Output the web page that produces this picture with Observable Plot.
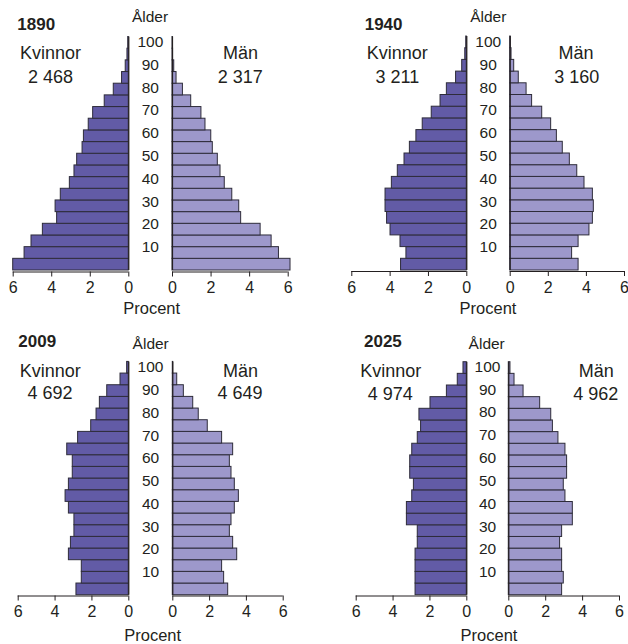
<!DOCTYPE html>
<html><head><meta charset="utf-8">
<script src="https://cdn.jsdelivr.net/npm/d3@7"></script>
<script src="https://cdn.jsdelivr.net/npm/@observablehq/plot@0.6"></script>
<style>
body{margin:0;background:#fff;font-family:"Liberation Sans",Arial,sans-serif;color:#231f20;}
#chart{position:relative;width:628px;height:644px;overflow:hidden;background:#fff;}
.panel{position:absolute;width:314px;height:322px;}
.panel svg{position:absolute;left:0;top:0;}
.lbl{position:absolute;transform:translate(-50%,-50%);line-height:1;white-space:nowrap;}
.ttl{position:absolute;transform:translate(0,-50%);line-height:1;font-weight:bold;font-size:17px;}
</style></head><body><div id="chart"></div>
<script>
// Age groups (lower bound of 5-year group; top group is 95+)
const ageGroups = [0,5,10,15,20,25,30,35,40,45,50,55,60,65,70,75,80,85,90,95];
const ageTicks = [10,20,30,40,50,60,70,80,90,100];
const pctTicks = [0,2,4,6];
const years = ["1890","1940","2009","2025"];
const womenLabel = "Kvinnor";
const menLabel = "Män";
const totalsWomen = ["2 468","3 211","4 692","4 974"];
const totalsMen = ["2 317","3 160","4 649","4 962"];

// Percent of population by age group, bottom (0-4) to top (95+)
const women1890 = [6.00,5.41,5.05,4.46,3.72,3.80,3.53,3.06,2.82,2.68,2.40,2.33,2.08,1.85,1.25,0.78,0.35,0.16,0.07,0.03];
const men1890   = [6.12,5.52,5.14,4.57,3.56,3.46,3.10,2.71,2.49,2.35,2.09,2.01,1.71,1.50,0.97,0.54,0.21,0.09,0.03,0.02];
const women1940 = [3.43,3.15,3.46,3.98,4.16,4.24,4.24,3.91,3.60,3.25,2.97,2.63,2.30,1.83,1.37,1.04,0.56,0.24,0.08,0.03];
const men1940   = [3.59,3.25,3.59,4.16,4.34,4.39,4.34,3.90,3.52,3.13,2.76,2.45,2.15,1.68,1.15,0.86,0.45,0.21,0.07,0.03];
const women2009 = [2.84,2.55,2.55,3.25,3.14,2.95,2.95,3.25,3.43,3.25,3.04,3.04,3.34,2.75,2.04,1.75,1.57,1.17,0.45,0.09];
const men2009   = [3.01,2.79,2.68,3.50,3.28,3.10,3.19,3.37,3.59,3.37,3.19,3.10,3.28,2.68,1.90,1.41,1.11,0.60,0.24,0.02];
const women2025 = [2.78,2.78,2.78,2.78,2.66,2.66,3.25,3.25,2.96,2.87,3.07,3.07,2.96,2.66,2.48,2.57,1.97,1.08,0.49,0.18];
const men2025   = [2.89,2.98,2.89,2.89,2.78,2.89,3.47,3.47,3.07,2.98,3.16,3.16,3.07,2.69,2.39,2.30,1.70,0.80,0.31,0.09];

const womenSeries = [women1890, women1940, women2009, women2025];
const menSeries = [men1890, men1940, men2009, men2025];

// Layout (pixels, relative to each panel)
const layout = [
  {ox:0,   oy:0,   lx6:12.7, lx0:128.3, rx0:172.0, rx6:287.7, yb:270.0, yt:36.5, ax:271.5, l10:246.7, l100:41.7,
   ttl:[17.3,24], ald:[150,17.3], kv:[50.5,53.3], kvn:[50.5,76.7], mn:[240.5,53.3], mnn:[240.3,76.7], pc:[151.7,308.3]},
  {ox:314, oy:0,   lx6:37.3, lx0:152.3, rx0:195.7, rx6:310.0, yb:270.0, yt:36.0, ax:271.0, l10:246.7, l100:41.7,
   ttl:[50.7,24], ald:[174.3,17.3], kv:[83.3,53.3], kvn:[83.3,76.7], mn:[262,53.3], mnn:[262.7,76.7], pc:[174,308.3]},
  {ox:0,   oy:322, lx6:17.7, lx0:128.3, rx0:172.3, rx6:282.7, yb:272.7, yt:39.4, ax:273.5, l10:249.6, l100:44.9,
   ttl:[18.3,19], ald:[150.7,21.7], kv:[50.3,49.3], kvn:[50,71], mn:[240.5,49.3], mnn:[240,71], pc:[152.7,313]},
  {ox:314, oy:322, lx6:41.7, lx0:152.3, rx0:194.3, rx6:305.0, yb:272.7, yt:39.7, ax:273.5, l10:249.8, l100:44.3,
   ttl:[50,19], ald:[172.7,21.7], kv:[76.7,49.3], kvn:[76.3,71.7], mn:[282.2,49.3], mnn:[281.7,71.7], pc:[175,313]}
];

const FEMALE = "#625ba6", MALE = "#9d98cb", EDGE = "#2e2c3a", INK = "#231f20";
const FONT = "'Liberation Sans', Arial, sans-serif";

function side(values, xRange, L, fill) {
  const data = ageGroups.map((a, i) => ({age: a, top: a + 5, v: values[i]}));
  return Plot.plot({
    width: 314, height: 322,
    marginTop: 0, marginLeft: 0, marginRight: 0, marginBottom: 322 - L.ax,
    x: {domain: [0, 6], range: xRange},
    y: {domain: [0, 100], range: [L.yb, L.yt], axis: null},
    style: {background: "transparent", overflow: "visible", fontFamily: FONT, color: INK},
    marks: [
      Plot.rectX(data, {x1: 0, x2: "v", y1: "age", y2: "top", fill, stroke: EDGE, strokeWidth: 1}),
      Plot.ruleY([0], {x1: 0, x2: 6, dy: L.ax - L.yb, stroke: INK, strokeWidth: 1}),
      Plot.ruleX([0], {y1: 0, y2: 100, stroke: INK, strokeWidth: 1.2}),
      Plot.axisX(pctTicks, {anchor: "bottom", tickSize: 5, tickPadding: 5, fontSize: 16, label: null, stroke: INK, fill: INK})
    ]
  });
}

function ages(L) {
  return Plot.plot({
    width: L.rx0 - L.lx0, height: 322,
    marginTop: 0, marginLeft: 0, marginRight: 0, marginBottom: 0,
    y: {domain: [10, 100], range: [L.l10, L.l100], axis: null},
    style: {background: "transparent", overflow: "visible", fontFamily: FONT, color: INK},
    marks: [
      Plot.text(ageTicks, {y: d => d, text: d => String(d), fontSize: 15.5, fill: INK})
    ]
  });
}

function label(parent, cls, txt, pos, size) {
  const d = document.createElement("div");
  d.className = cls;
  d.textContent = txt;
  d.style.left = pos[0] + "px";
  d.style.top = pos[1] + "px";
  if (size) d.style.fontSize = size + "px";
  parent.appendChild(d);
}

const chart = document.getElementById("chart");
layout.forEach((L, k) => {
  const p = document.createElement("div");
  p.className = "panel";
  p.style.left = L.ox + "px";
  p.style.top = L.oy + "px";
  chart.appendChild(p);
  p.appendChild(side(womenSeries[k], [L.lx0, L.lx6], L, FEMALE));
  p.appendChild(side(menSeries[k], [L.rx0, L.rx6], L, MALE));
  const a = ages(L);
  a.style.left = L.lx0 + "px";
  p.appendChild(a);
  label(p, "ttl", years[k], L.ttl);
  label(p, "lbl", "Ålder", L.ald, 15.5);
  label(p, "lbl", womenLabel, L.kv, 18);
  label(p, "lbl", totalsWomen[k], L.kvn, 18);
  label(p, "lbl", menLabel, L.mn, 18);
  label(p, "lbl", totalsMen[k], L.mnn, 18);
  label(p, "lbl", "Procent", L.pc, 16.5);
});
</script></body></html>
